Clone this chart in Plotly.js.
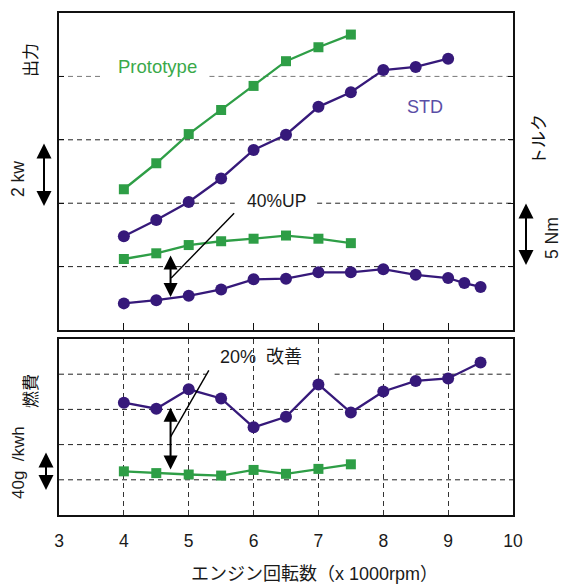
<!DOCTYPE html>
<html>
<head>
<meta charset="utf-8">
<script src="https://cdn.plot.ly/plotly-3.0.1.min.js"></script>
<style>html,body{margin:0;padding:0;background:#fff;}#chart{width:564px;height:586px;}</style>
</head>
<body>
<div id="chart"></div>
<script>
// ---- data ----
const xTicks = [3, 4, 5, 6, 7, 8, 9, 10];
const protoX = [4, 4.5, 5, 5.5, 6, 6.5, 7, 7.5];
const stdPowerX = [4, 4.5, 5, 5.5, 6, 6.5, 7, 7.5, 8, 8.5, 9];
const stdTorqueX = [4, 4.5, 5, 5.5, 6, 6.5, 7, 7.5, 8, 8.5, 9, 9.25, 9.5];
const stdFuelX = [4, 4.5, 5, 5.5, 6, 6.5, 7, 7.5, 8, 8.5, 9, 9.5];

const protoPower = [2.22, 2.63, 3.09, 3.47, 3.85, 4.24, 4.46, 4.66];
const stdPower = [1.48, 1.735, 2.02, 2.39, 2.84, 3.08, 3.52, 3.75, 4.10, 4.15, 4.28];
const protoTorque = [1.12, 1.21, 1.34, 1.40, 1.44, 1.49, 1.44, 1.37];
const stdTorque = [0.42, 0.47, 0.54, 0.64, 0.80, 0.81, 0.91, 0.91, 0.96, 0.87, 0.82, 0.74, 0.68];
const stdFuel = [3.19, 3.02, 3.57, 3.31, 2.49, 2.79, 3.71, 2.91, 3.51, 3.81, 3.88, 4.33];
const protoFuel = [1.24, 1.19, 1.15, 1.12, 1.28, 1.17, 1.31, 1.44];

const GREEN = '#2e9e46';
const PURPLE = '#36197a';
const FONT = 'Liberation Sans, Arial, Noto Sans CJK JP, sans-serif';

function protoTrace(x, y, xa, ya) {
  return {x: x, y: y, xaxis: xa, yaxis: ya, mode: 'lines+markers', type: 'scatter',
    line: {color: GREEN, width: 2.3}, marker: {symbol: 'square', size: 10, color: GREEN},
    cliponaxis: false, hoverinfo: 'skip'};
}
function stdTrace(x, y, xa, ya) {
  return {x: x, y: y, xaxis: xa, yaxis: ya, mode: 'lines+markers', type: 'scatter',
    line: {color: PURPLE, width: 2.3}, marker: {symbol: 'circle', size: 12, color: PURPLE},
    cliponaxis: false, hoverinfo: 'skip'};
}

const data = [
  stdTrace(stdPowerX, stdPower, 'x2', 'y2'),
  protoTrace(protoX, protoPower, 'x2', 'y2'),
  stdTrace(stdTorqueX, stdTorque, 'x2', 'y2'),
  protoTrace(protoX, protoTorque, 'x2', 'y2'),
  stdTrace(stdFuelX, stdFuel, 'x', 'y'),
  protoTrace(protoX, protoFuel, 'x', 'y')
];

// gridline segments (horizontal)
const DASH = '5px,4px';
function hseg(xref, yref, y, x0, x1, color) {
  return {type: 'line', xref: xref, yref: yref, x0: x0, x1: x1, y0: y, y1: y,
    line: {color: color, width: 1, dash: DASH}, layer: 'below'};
}
const shapes = [
  // top panel
  hseg('x2', 'y2', 1, 3, 10, '#222'),
  hseg('x2', 'y2', 2, 3, 5.71, '#222'),
  hseg('x2', 'y2', 2, 6.98, 10, '#222'),
  hseg('x2', 'y2', 3, 3, 10, '#222'),
  hseg('x2', 'y2', 4, 3, 3.68, '#777'),
  hseg('x2', 'y2', 4, 5.32, 10, '#777'),
  // bottom panel
  hseg('x', 'y', 1, 3, 10, '#222'),
  hseg('x', 'y', 2, 3, 10, '#222'),
  hseg('x', 'y', 3, 3, 10, '#222'),
  hseg('x', 'y', 4, 3, 5.28, '#222'),
  hseg('x', 'y', 4, 7.25, 10, '#222'),
  // leader lines
  {type: 'line', xref: 'x2', yref: 'y2', x0: 5.70, y0: 1.84, x1: 4.73, y1: 0.82,
   line: {color: '#000', width: 1.4}, layer: 'above'},
  {type: 'line', xref: 'x', yref: 'y', x0: 5.31, y0: 4.11, x1: 4.72, y1: 2.22,
   line: {color: '#000', width: 1.4}, layer: 'above'}
];

function txt(text, x, y, xref, yref, size, color, angle) {
  return {text: text, x: x, y: y, xref: xref, yref: yref, showarrow: false,
    font: {family: FONT, size: size, color: color || '#1a1a1a'}, textangle: angle || 0,
    xanchor: 'center', yanchor: 'middle'};
}
function dblArrowData(x, y0, y1, xref, yref) {
  return {text: '', x: x, y: y0, ax: x, ay: y1, xref: xref, yref: yref, axref: xref, ayref: yref,
    showarrow: true, arrowside: 'end+start', arrowhead: 2, arrowsize: 1.4, arrowwidth: 2,
    arrowcolor: '#000', standoff: 0, startstandoff: 0};
}
function dblArrowPaper(x, yTip, len) {
  return {text: '', x: x, y: yTip, ax: 0, ay: -len, xref: 'paper', yref: 'paper',
    showarrow: true, arrowside: 'end+start', arrowhead: 2, arrowsize: 1.5, arrowwidth: 2,
    arrowcolor: '#000', standoff: 0, startstandoff: 0};
}
// paper helpers: plot area x 59..513, y 13..515 (px)
const px = v => (v - 59) / 454;
const py = v => (515 - v) / 502;

const annotations = [
  txt('Prototype', 4.52, 4.15, 'x2', 'y2', 18.5, '#3aa94a'),
  txt('STD', 8.65, 3.52, 'x2', 'y2', 18, '#5a4ea6'),
  txt('40%UP', 6.35, 2.04, 'x2', 'y2', 17.5),
  txt('20%  改善', 6.12, 4.48, 'x', 'y', 18),
  dblArrowData(4.72, 0.52, 1.20, 'x2', 'y2'),
  dblArrowData(4.72, 1.29, 3.09, 'x', 'y'),
  dblArrowPaper(px(44), py(206), 64),
  dblArrowPaper(px(526), py(265), 63),
  dblArrowPaper(px(46), py(490), 39),
  txt('出力', px(31), py(60), 'paper', 'paper', 17, '#111', -90),
  txt('2 kw', px(18), py(179), 'paper', 'paper', 17.5, null, -90),
  txt('トルク', px(539), py(140), 'paper', 'paper', 17, '#111', -90),
  txt('5 Nm', px(552), py(238), 'paper', 'paper', 17.5, null, -90),
  txt('燃費', px(31), py(391), 'paper', 'paper', 17, '#111', -90),
  txt('40g  /kwh', px(18), py(463), 'paper', 'paper', 17, null, -90),
  txt('エンジン回転数（x 1000rpm）', px(314), py(574), 'paper', 'paper', 18)
];

const layout = {
  width: 564, height: 586,
  margin: {l: 59, r: 51, t: 13, b: 71},
  paper_bgcolor: '#fff', plot_bgcolor: '#fff',
  showlegend: false,
  font: {family: FONT, color: '#111'},
  xaxis: {domain: [0, 1], anchor: 'y', range: [3, 10], tickvals: xTicks, ticktext: xTicks.map(String),
    showgrid: true, gridcolor: '#333', gridwidth: 1, griddash: DASH,
    showline: true, linecolor: '#111', linewidth: 2, mirror: true, ticks: '',
    ticklabelstandoff: 9, tickfont: {family: FONT, size: 17.5, color: '#1a1a1a'}, zeroline: false},
  yaxis: {domain: [0, 0.3506], anchor: 'x', range: [0, 5], dtick: 1, showgrid: false,
    showline: true, linecolor: '#111', linewidth: 2, mirror: true, ticks: '',
    showticklabels: false, zeroline: false},
  xaxis2: {domain: [0, 1], anchor: 'y2', range: [3, 10], tickvals: [4, 5, 6, 7, 8, 9],
    showgrid: false, showline: true, linecolor: '#111', linewidth: 2, mirror: true,
    ticks: 'inside', ticklen: 7, tickwidth: 1, tickcolor: '#111', showticklabels: false, zeroline: false},
  yaxis2: {domain: [0.3685, 1], anchor: 'x2', range: [0, 5], tickvals: [1, 2, 3, 4],
    showgrid: false, showline: true, linecolor: '#111', linewidth: 2, mirror: 'ticks',
    ticks: 'inside', ticklen: 5, tickwidth: 1, tickcolor: '#111', showticklabels: false, zeroline: false},
  shapes: shapes,
  annotations: annotations
};

Plotly.newPlot('chart', data, layout, {displayModeBar: false, staticPlot: true});
</script>
</body>
</html>
